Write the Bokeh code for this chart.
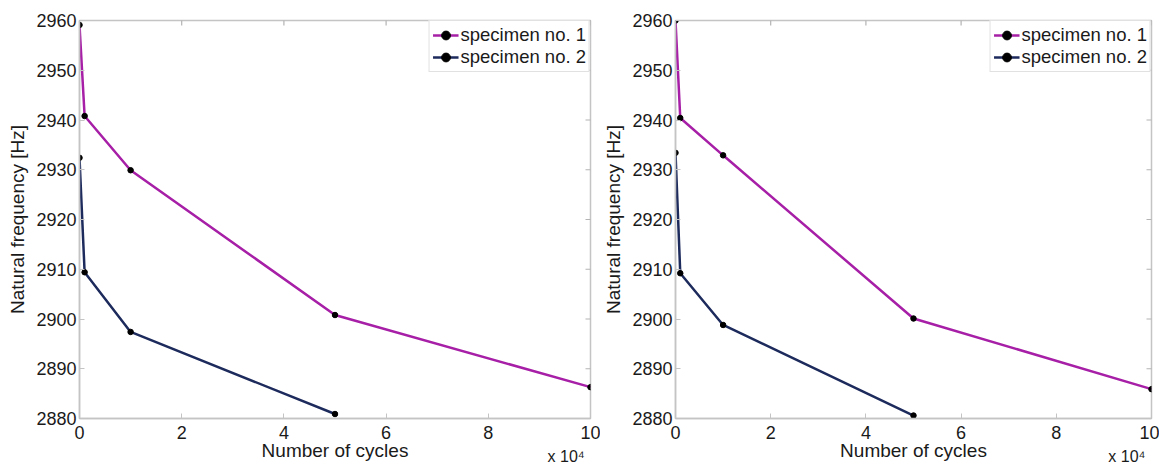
import math
from bokeh.plotting import figure
from bokeh.layouts import row
from bokeh.models import (FixedTicker, CustomJSTickFormatter, Range1d,
                          Legend, LegendItem, LinearAxis)
from bokeh.embed import file_html
from bokeh.resources import INLINE

# ---- data ----
cycles_s1 = [0, 1000, 10000, 50000, 100000]
cycles_s2 = [0, 1000, 10000, 50000]

left_spec1 = [2959.1, 2940.8, 2929.9, 2900.8, 2886.3]
left_spec2 = [2932.4, 2909.4, 2897.4, 2880.9]

right_spec1 = [2960.0, 2940.4, 2932.9, 2900.1, 2885.9]
right_spec2 = [2933.4, 2909.2, 2898.8, 2880.6]

y_ticks = [2880, 2890, 2900, 2910, 2920, 2930, 2940, 2950, 2960]
x_ticks = [0, 20000, 40000, 60000, 80000, 100000]

series_names = ["specimen no. 1", "specimen no. 2"]
x_label = "Number of cycles"
y_label = "Natural frequency [Hz]"
x_scale_label = "x 10\u2074"

MAGENTA = "#a61fa6"
NAVY = "#1d2a5c"
FONT = "Liberation Sans"
GRID = "#c4c4c4"
TEXT = "#1a1a1a"

X_MIN, X_MAX = 0, 100000
Y_MIN, Y_MAX = 2880, 2960


def make_panel(s1, s2, border_left, border_right, border_top, border_bottom, frame_w):
    p = figure(frame_width=frame_w, frame_height=398,
               min_border_left=border_left, min_border_right=border_right,
               min_border_top=border_top, min_border_bottom=border_bottom,
               x_range=Range1d(X_MIN, X_MAX), y_range=Range1d(Y_MIN, Y_MAX),
               output_backend="svg", toolbar_location=None)
    p.grid.visible = False
    p.outline_line_color = GRID
    p.outline_line_width = 1.5
    p.background_fill_color = "white"
    p.border_fill_color = "white"

    # inward box ticks on top and right edges (clipped to the frame)
    p.scatter(x_ticks, [Y_MAX] * len(x_ticks), marker="dash", angle=math.pi / 2,
              size=10, line_color="#b4b4b4", line_width=1.2)
    p.scatter([X_MAX] * len(y_ticks), y_ticks, marker="dash",
              size=10, line_color="#b4b4b4", line_width=1.2)

    l1 = p.line(cycles_s1, s1, line_color=MAGENTA, line_width=2.5)
    d1 = p.scatter(cycles_s1, s1, size=5.5, color="black")
    l2 = p.line(cycles_s2, s2, line_color=NAVY, line_width=2.5)
    d2 = p.scatter(cycles_s2, s2, size=5.5, color="black")

    for ax in (p.xaxis[0], p.yaxis[0]):
        ax.axis_line_color = GRID
        ax.axis_line_width = 1.5
        ax.major_tick_line_color = GRID
        ax.major_tick_in = 5
        ax.major_tick_out = 0
        ax.minor_tick_line_color = None
        ax.major_label_text_font = FONT
        ax.major_label_text_font_size = "18px"
        ax.major_label_text_color = TEXT
        ax.axis_label_text_font = FONT
        ax.axis_label_text_font_size = "19px"
        ax.axis_label_text_font_style = "normal"
        ax.axis_label_text_color = TEXT

    p.xaxis[0].ticker = FixedTicker(ticks=x_ticks)
    p.xaxis[0].formatter = CustomJSTickFormatter(code="return (tick/10000).toFixed(0);")
    p.xaxis[0].major_label_standoff = 7
    p.xaxis[0].axis_label = x_label
    p.xaxis[0].axis_label_standoff = -2

    p.yaxis[0].ticker = FixedTicker(ticks=y_ticks)
    p.yaxis[0].major_label_standoff = 3
    p.yaxis[0].axis_label = y_label
    p.yaxis[0].axis_label_standoff = 5

    # "x 10^4" multiplier: label of a tick-less extra axis below, centred label
    # padded on the left with no-break spaces so that it ends near the frame's right edge
    pad = int((frame_w - 10 - 36) / 4.445)
    mult = LinearAxis(ticker=FixedTicker(ticks=[]), axis_line_color=None,
                      major_tick_line_color=None, minor_tick_line_color=None,
                      major_label_standoff=0,
                      axis_label="\u00a0" * pad + x_scale_label,
                      axis_label_align="center",
                      axis_label_standoff=-16,
                      axis_label_text_font=FONT, axis_label_text_font_size="16px",
                      axis_label_text_font_style="normal",
                      axis_label_text_color=TEXT)
    p.add_layout(mult, "below")

    legend = Legend(items=[LegendItem(label=series_names[0], renderers=[l1, d1]),
                           LegendItem(label=series_names[1], renderers=[l2, d2])],
                    location="top_right", margin=0, padding=3, spacing=0,
                    label_text_font=FONT, label_text_font_size="18.5px",
                    label_text_color=TEXT, label_standoff=2,
                    glyph_width=26, glyph_height=22, label_height=22,
                    border_line_color=GRID, border_line_width=1.5,
                    background_fill_alpha=1.0)
    p.add_layout(legend)
    return p


left = make_panel(left_spec1, left_spec2, 79, 10, 18, 48, 511)
right_p = make_panel(right_spec1, right_spec2, 72, 8, 20, 46, 476)

layout = row(left, right_p, spacing=0)
open("out.html", "w").write(file_html(layout, INLINE))
